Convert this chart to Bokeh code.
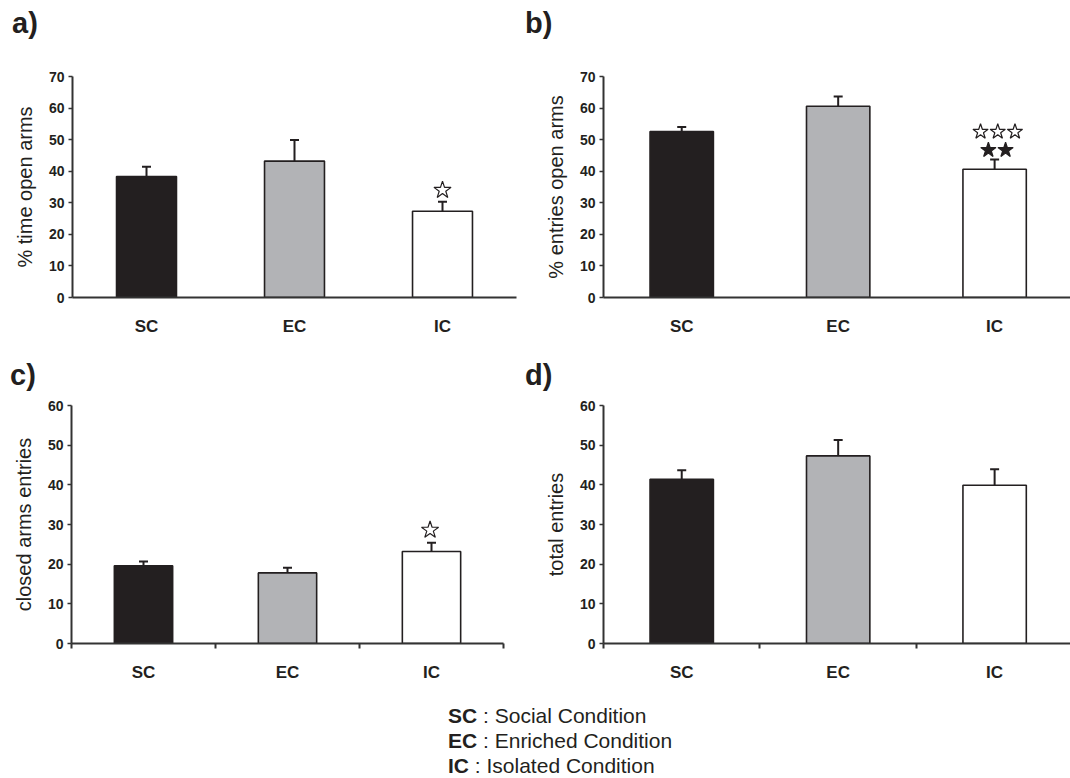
from bokeh.plotting import figure
from bokeh.models import Range1d, FixedTicker, ColumnDataSource, Whisker, TeeHead, Div
from bokeh.layouts import column, row
from bokeh.embed import file_html
from bokeh.resources import INLINE

# ---------------- data ----------------
categories = ["SC", "EC", "IC"]
bar_colors = ["#231f20", "#b2b3b6", "#ffffff"]

time_open = [38.3, 43.2, 27.3]
time_open_sem = [3.1, 6.7, 3.0]

entries_open = [52.6, 60.6, 40.6]
entries_open_sem = [1.4, 3.1, 3.1]

closed_entries = [19.6, 17.8, 23.2]
closed_entries_sem = [1.1, 1.3, 2.2]

total_entries = [41.4, 47.3, 39.9]
total_entries_sem = [2.3, 4.0, 4.0]

# significance stars: category, y value, filled?, offset (in category units)
sig_a_cat = ["IC"]
sig_a_y = [34.0]
sig_a_filled = [False]
sig_a_off = [0.0]

sig_b_cat = ["IC", "IC", "IC", "IC", "IC"]
sig_b_y = [52.5, 52.5, 52.5, 46.7, 46.7]
sig_b_filled = [False, False, False, True, True]
sig_b_off = [-0.09, 0.02, 0.13, -0.04, 0.07]

sig_c_cat = ["IC"]
sig_c_y = [28.6]
sig_c_filled = [False]
sig_c_off = [-0.01]

panel_labels = ["a)", "b)", "c)", "d)"]
legend_abbr = ["SC", "EC", "IC"]
legend_names = ["Social Condition", "Enriched Condition", "Isolated Condition"]

FONT = "Liberation Sans"
INK = "#231f20"
AXIS = "#333333"


def panel(vals, sems, ylabel, ymax, xend, width, height,
          mb_left, mb_right, mb_top, mb_bottom, boundary_ticks, sig=None):
    p = figure(width=width, height=height, title=None,
               x_range=Range1d(0, xend), y_range=Range1d(0, ymax),
               output_backend="svg", toolbar_location=None,
               min_border_left=mb_left, min_border_right=mb_right,
               min_border_top=mb_top, min_border_bottom=mb_bottom)
    p.outline_line_color = None
    p.xgrid.visible = False
    p.ygrid.visible = False
    p.background_fill_color = "white"
    p.border_fill_color = "white"

    xs = [i + 0.5 for i in range(len(categories))]
    src = ColumnDataSource(dict(x=xs, top=vals,
                                upper=[v + e for v, e in zip(vals, sems)],
                                color=bar_colors))
    p.vbar(x="x", top="top", width=0.405, bottom=0, source=src,
           fill_color="color", line_color=INK, line_width=1.6)
    w = Whisker(base="x", upper="upper", lower="top", source=src,
                dimension="height", line_color=INK, line_width=2,
                upper_head=TeeHead(size=9, line_color=INK, line_width=2),
                lower_head=None)
    p.add_layout(w)

    if sig is not None:
        cats, ys, filled, offs = sig
        sx = [categories.index(c) + 0.5 + o for c, o in zip(cats, offs)]
        fills = [INK if f else "white" for f in filled]
        size = 16 if len(cats) > 1 else 18
        p.scatter(x=sx, y=ys, marker="star", size=size,
                  fill_color=fills, line_color=INK, line_width=1.2)

    # x axis
    xa = p.xaxis[0]
    minor = [0, 1, 2, 3] if boundary_ticks else []
    xa.ticker = FixedTicker(ticks=xs, minor_ticks=minor)
    xa.major_label_overrides = {x: c for x, c in zip(xs, categories)}
    xa.major_tick_line_color = None
    xa.minor_tick_in = 0
    xa.minor_tick_out = 5
    xa.minor_tick_line_color = AXIS
    xa.minor_tick_line_width = 2
    xa.axis_line_color = AXIS
    xa.axis_line_width = 2
    xa.major_label_text_font = FONT
    xa.major_label_text_font_size = "17px"
    xa.major_label_text_font_style = "bold"
    xa.major_label_text_color = INK
    xa.major_label_standoff = 13

    # y axis
    ya = p.yaxis[0]
    ya.ticker = FixedTicker(ticks=list(range(0, ymax + 1, 10)), minor_ticks=[])
    ya.major_tick_in = 0
    ya.major_tick_out = 4
    ya.major_tick_line_color = AXIS
    ya.major_tick_line_width = 1.5
    ya.axis_line_color = AXIS
    ya.axis_line_width = 2
    ya.major_label_text_font = FONT
    ya.major_label_text_font_size = "14px"
    ya.major_label_text_font_style = "bold"
    ya.major_label_text_color = INK
    ya.major_label_standoff = 4
    ya.axis_label = ylabel
    ya.axis_label_text_font = FONT
    ya.axis_label_text_font_size = "20px"
    ya.axis_label_text_font_style = "normal"
    ya.axis_label_text_color = INK
    ya.axis_label_standoff = 10
    return p


def label_div(text, width, height, pad_left, pad_top):
    return Div(text=text, width=width, height=height, margin=(0, 0, 0, 0),
               styles={"font-family": "Liberation Sans, Arial, sans-serif",
                       "font-size": "29px", "font-weight": "bold",
                       "line-height": "29px", "color": INK,
                       "padding-left": f"{pad_left}px",
                       "padding-top": f"{pad_top}px",
                       "box-sizing": "border-box"})


pa = panel(time_open, time_open_sem, "% time open arms", 70, 3.0,
           520, 320, 72, 4, 33, 53, False,
           (sig_a_cat, sig_a_y, sig_a_filled, sig_a_off))
pb = panel(entries_open, entries_open_sem, "% entries open arms", 70, 2.985,
           550, 320, 83, 0, 36, 63, False,
           (sig_b_cat, sig_b_y, sig_b_filled, sig_b_off))
pc = panel(closed_entries, closed_entries_sem, "closed arms entries", 60, 3.0,
           520, 308, 71, 17, 10, 60, True,
           (sig_c_cat, sig_c_y, sig_c_filled, sig_c_off))
pd = panel(total_entries, total_entries_sem, "total entries", 60, 2.985,
           550, 308, 83, 0, 10, 60, True)

la = label_div(panel_labels[0], 520, 40, 12, 9)
lb = label_div(panel_labels[1], 550, 40, 5, 9)
lc = label_div(panel_labels[2], 520, 35, 10, 1)
ld = label_div(panel_labels[3], 550, 35, 5, 1)

legend_html = "<br>".join(
    f"<b>{a}</b> : {n}" for a, n in zip(legend_abbr, legend_names))
legend = Div(text=legend_html, width=1070, height=75, margin=(0, 0, 0, 0),
             styles={"font-family": "Liberation Sans, Arial, sans-serif",
                     "font-size": "21px", "line-height": "25px",
                     "color": INK, "padding-left": "448px"})

layout = column(row(la, lb), row(pa, pb), row(lc, ld), row(pc, pd), legend)
open("out.html", "w").write(file_html(layout, INLINE))
